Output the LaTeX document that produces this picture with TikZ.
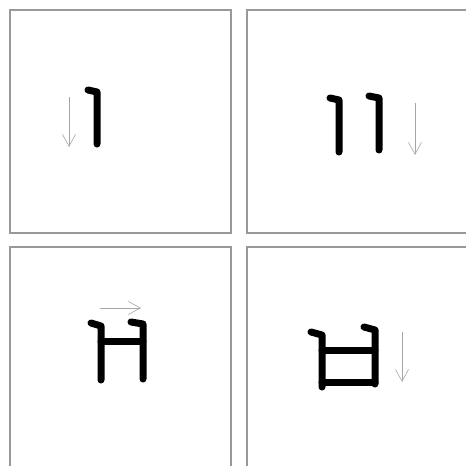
\documentclass[tikz,border=0pt]{standalone}
\usetikzlibrary{arrows.meta}
\tikzset{
  panel/.style={draw=black!40, line width=1.4pt},
  brush/.style={draw=black, line width=7pt, line cap=round, line join=round},
  hint/.style={draw=black!35, line width=0.6pt, -{Straight Barb[length=12pt,width=13pt]}}
}
\begin{document}
\begin{tikzpicture}[x=1pt,y=-1pt]
\useasboundingbox (0,0) rectangle (466,466);
\clip (0,0) rectangle (466,466);
% panels
\draw[panel] (10,10) rectangle (231,233);
\draw[panel] (247,10) rectangle (472,233);
\draw[panel] (10,247) rectangle (231,480);
\draw[panel] (247,247) rectangle (472,480);
% panel 1
\draw[brush] (88,90) -- (97,92) -- (97,144);
\draw[hint] (69,97) -- (69,147);
% panel 2
\draw[brush] (330,98) -- (339,100) -- (339,152);
\draw[brush] (369,96) -- (379,98) -- (379,150);
\draw[hint] (415,103) -- (415,155);
% panel 3
\draw[brush] (91,323) -- (101,326) -- (101,380);
\draw[brush] (131,322) -- (143,324) -- (143,379);
\draw[brush] (101,341) -- (143,341);
\draw[hint] (100,308) -- (141,308);
% panel 4
\draw[brush] (311,332) -- (322,335) -- (322,387);
\draw[brush] (364,327) -- (375,330) -- (375,384);
\draw[brush] (322,350) -- (375,350);
\draw[brush] (322,382) -- (375,382);
\draw[hint] (402,332) -- (402,382);
\end{tikzpicture}
\end{document}
